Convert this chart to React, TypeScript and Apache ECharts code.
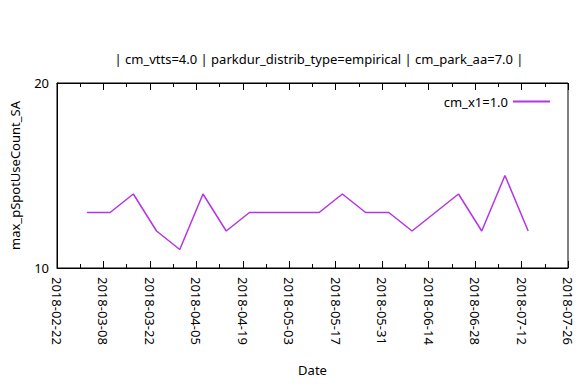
import React, { useEffect, useRef } from "react";
import * as echarts from "echarts";

const TITLE = "| cm_vtts=4.0 | parkdur_distrib_type=empirical | cm_park_aa=7.0 |";
const SERIES_NAME = "cm_x1=1.0";
const X_START = "2018-02-22";
const X_END = "2018-07-26";
const dates = [
  "2018-03-03", "2018-03-10", "2018-03-17", "2018-03-24", "2018-03-31",
  "2018-04-07", "2018-04-14", "2018-04-21", "2018-04-28", "2018-05-05",
  "2018-05-12", "2018-05-19", "2018-05-26", "2018-06-02", "2018-06-09",
  "2018-06-16", "2018-06-23", "2018-06-30", "2018-07-07", "2018-07-14",
];
const values = [13, 13, 14, 12, 11, 14, 12, 13, 13, 13, 13, 14, 13, 13, 12, 13, 14, 12, 15, 12];
const yTicks = [10, 20];

const DAY = 86400000;
const toMs = (s: string) => Date.parse(s + "T00:00:00Z");
const dayOffset = (s: string) => Math.round((toMs(s) - toMs(X_START)) / DAY);
const fmtDay = (d: number) => new Date(toMs(X_START) + d * DAY).toISOString().slice(0, 10);

export default function App() {
  const ref = useRef<HTMLDivElement>(null);
  useEffect(() => {
    if (!ref.current) return;
    const chart = echarts.init(ref.current, null, { renderer: "svg" });
    const font = "Noto Sans";
    const fs = 13;
    const xMax = dayOffset(X_END);
    const commonX = {
      type: "value" as const,
      min: 0,
      max: xMax,
      interval: 14,
      splitLine: { show: false },
      axisLine: { lineStyle: { color: "#000", width: 1 } },
      axisTick: { inside: true, length: 7, lineStyle: { color: "#000" } },
      minorTick: { show: true, splitNumber: 2, length: 4, lineStyle: { color: "#000" } },
    };
    chart.setOption({
      animation: false,
      textStyle: { fontFamily: font },
      title: {
        text: TITLE,
        left: 314,
        textAlign: "center",
        top: 47,
        textStyle: { fontFamily: font, fontSize: fs, fontWeight: "normal", color: "#000" },
      },
      legend: {
        data: [{ name: SERIES_NAME, icon: "rect" }],
        right: 27,
        top: 90,
        align: "right",
        itemWidth: 37,
        itemHeight: 2,
        itemGap: 8,
        textStyle: { fontFamily: font, fontSize: fs, color: "#000" },
      },
      grid: {
        left: 57,
        right: 14,
        top: 83,
        bottom: 119,
        show: true,
        borderColor: "#000",
        borderWidth: 1,
        backgroundColor: "transparent",
      },
      xAxis: [
        {
          ...commonX,
          position: "bottom",
          name: "Date",
          nameLocation: "middle",
          nameGap: 95,
          nameTextStyle: { fontFamily: font, fontSize: fs, color: "#000" },
          axisLabel: {
            rotate: -90,
            margin: 9,
            fontFamily: font,
            fontSize: fs,
            color: "#000",
            formatter: (v: number) => fmtDay(v),
          },
        },
        {
          ...commonX,
          position: "top",
          axisLabel: { show: false },
        },
      ],
      yAxis: {
        type: "value",
        min: yTicks[0],
        max: yTicks[yTicks.length - 1],
        interval: yTicks[1] - yTicks[0],
        name: "max_pSpotUseCount_SA",
        nameLocation: "middle",
        nameGap: 36,
        nameTextStyle: { fontFamily: font, fontSize: fs, color: "#000" },
        splitLine: { show: false },
        axisLine: { show: true, lineStyle: { color: "#000" } },
        axisTick: { show: false },
        axisLabel: { margin: 8, fontFamily: font, fontSize: fs, color: "#000" },
      },
      series: [
        {
          name: SERIES_NAME,
          type: "line",
          xAxisIndex: 0,
          data: dates.map((d, i) => [dayOffset(d), values[i]]),
          showSymbol: false,
          symbol: "none",
          lineStyle: { color: "#b435e6", width: 1.5 },
          itemStyle: { color: "#b435e6" },
        },
      ],
    });
    return () => chart.dispose();
  }, []);
  return <div ref={ref} style={{ width: 582, height: 387, position: "absolute", left: 0, top: 0 }} />;
}
